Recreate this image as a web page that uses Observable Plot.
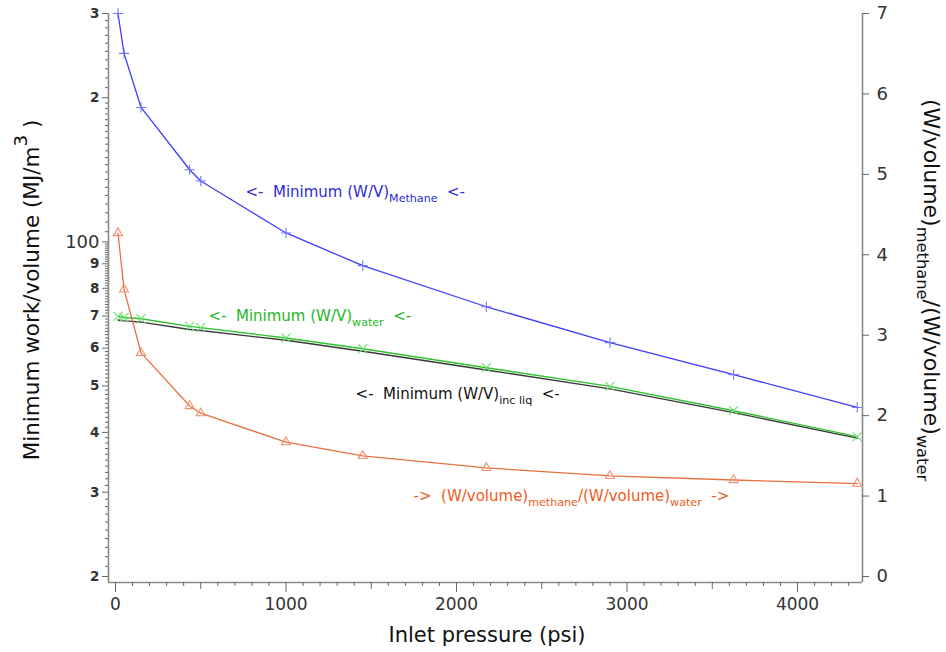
<!DOCTYPE html>
<html><head><meta charset="utf-8">
<script src="https://cdn.jsdelivr.net/npm/d3@7"></script>
<script src="https://cdn.jsdelivr.net/npm/@observablehq/plot@0.6"></script>
<style>
body{margin:0;background:#fff;}
svg{display:block}
svg text{white-space:pre}
</style>
</head><body><div id="chart"></div>
<script>
// ---- data ----
const pressure = [14.7, 50, 150, 435, 500, 1000, 1450, 2175, 2900, 3625, 4350];      // psi
const methane  = [300, 247.6, 190.9, 141.5, 134, 104.4, 89.2, 73.2, 61.6, 52.8, 45.1]; // MJ/m3 (left)
const water    = [69.9, 69.5, 69.1, 66.6, 66.2, 63.0, 59.8, 54.6, 49.9, 44.4, 39.2];  // MJ/m3 (left)
const incLiq   = [68.7, 68.4, 68.0, 65.6, 65.3, 62.3, 59.1, 54.0, 49.3, 44.0, 38.9];  // MJ/m3 (left)
const ratio    = [4.27, 3.57, 2.78, 2.12, 2.03, 1.67, 1.50, 1.35, 1.25, 1.20, 1.155]; // right axis

const xMajorTicks = [0, 1000, 2000, 3000, 4000];
const leftMajorTicks = [20, 30, 40, 50, 60, 70, 80, 90, 200, 300];
const leftBigTicks = [100];
const rightTicks = [0, 1, 2, 3, 4, 5, 6, 7];

const labels = [
  {x: 762, y: 127, text: "<-  Minimum (W/V)_{Methane}  <-", color: "#2b2bd8"},
  {x: 545, y: 70.0, text: "<-  Minimum (W/V)_{water}  <-", color: "#22b822"},
  {x: 1408, y: 48.0, text: "<-  Minimum (W/V)_{inc liq}  <-", color: "#111111"},
  {x: 1748, y: 29.4, text: "->  (W/volume)_{methane}/(W/volume)_{water}  ->", color: "#f05a1a"}
];

// ---- scales / helpers ----
const W = 946, H = 652;
const xDomain = [-41, 4381];
const yDomain = [19.43, 300];
// right axis (linear 0..7) shares the plot frame with the left log axis: 0 <-> 20, 7 <-> 300
const toLeft = v => 20 * Math.pow(15, v / 7);

const rows = pressure.map((p, i) => ({
  p, methane: methane[i], water: water[i], incLiq: incLiq[i], ratio: toLeft(ratio[i])
}));
const rightRows = rightTicks.map(v => ({v, y: toLeft(v)}));

const leftMinor = [];
for (let v = 21; v < 100; v++) if (v % 10) leftMinor.push(v);
for (let v = 105; v < 200; v += 5) leftMinor.push(v);
for (let v = 210; v < 300; v += 10) leftMinor.push(v);
const xMid = [500, 1500, 2500, 3500];
const xMinor = d3.range(100, 4400, 100).filter(v => v % 500);

const axisColor = "#8a8a8a";
const tickText = "#333";
const pxPerPsi = (W - 108 - 84) / (xDomain[1] - xDomain[0]);

const plot = Plot.plot({
  width: W, height: H,
  marginLeft: 108, marginRight: 84, marginTop: 13, marginBottom: 70,
  style: {fontFamily: "DejaVu Sans", background: "#fff"},
  x: {domain: xDomain, label: null},
  y: {type: "log", domain: yDomain, label: null},
  marks: [
    // frame
    Plot.ruleX([xDomain[0], xDomain[1]], {stroke: axisColor, strokeWidth: 1.6}),
    Plot.ruleY([yDomain[0]], {stroke: axisColor, strokeWidth: 1.6}),
    // x axis
    Plot.axisX({ticks: xMajorTicks, tickSize: 10, tickPadding: 5, fontSize: 17, stroke: "#666", fill: tickText, tickFormat: d => String(d), label: null}),
    Plot.axisX({ticks: xMid, tickSize: 7, stroke: "#666", tickFormat: () => "", label: null}),
    Plot.axisX({ticks: xMinor, tickSize: 4, stroke: "#666", tickFormat: () => "", label: null}),
    // left axis
    Plot.axisY({anchor: "left", ticks: leftMajorTicks, tickSize: 6, tickPadding: 3, fontSize: 13.5, fontWeight: 600, stroke: "#666", fill: tickText,
      tickFormat: d => String(d >= 200 ? d / 100 : d / 10), label: null}),
    Plot.axisY({anchor: "left", ticks: leftBigTicks, tickSize: 6, tickPadding: 3, fontSize: 18, stroke: "#666", fill: tickText,
      tickFormat: d => String(d), label: null}),
    Plot.axisY({anchor: "left", ticks: leftMinor, tickSize: 3, stroke: "#666", tickFormat: () => "", label: null}),
    // right axis (ratio scale)
    Plot.ruleY(rightRows, {y: "y", x1: xDomain[1], x2: xDomain[1] + 7 / pxPerPsi, stroke: "#666", strokeWidth: 1}),
    Plot.text(rightRows, {x: xDomain[1], y: "y", text: d => String(d.v), dx: 14, textAnchor: "start", fontSize: 18, fill: tickText}),
    // series
    Plot.line(rows, {x: "p", y: "incLiq", stroke: "#3a3a3a", strokeWidth: 1.4}),
    Plot.line(rows, {x: "p", y: "water", stroke: "#2ec42e", strokeWidth: 1.4}),
    Plot.dot(rows, {x: "p", y: "water", symbol: "times", r: 4.2, stroke: "#6fe06f", strokeWidth: 1.1}),
    Plot.line(rows, {x: "p", y: "methane", stroke: "#3d3dff", strokeWidth: 1.3}),
    Plot.dot(rows, {x: "p", y: "methane", symbol: "plus", r: 3.4, stroke: "#7474ff", strokeWidth: 1.1}),
    Plot.line(rows, {x: "p", y: "ratio", stroke: "#e8703f", strokeWidth: 1.3}),
    Plot.dot(rows, {x: "p", y: "ratio", symbol: "triangle2", r: 4.3, stroke: "#f09070", strokeWidth: 1.1}),
    // annotations
    Plot.text(labels, {x: "x", y: "y", text: "text", fill: "color", textAnchor: "start", fontSize: 15})
  ]
});

document.getElementById("chart").appendChild(plot);

// ---- rich text (subscripts / superscripts) ----
function richText(textEl) {
  const s = textEl.textContent;
  if (!/[_^]\{/.test(s)) return;
  const parts = s.split(/([_^]\{[^}]*\})/);
  textEl.textContent = "";
  const sel = d3.select(textEl);
  let shift = 0;
  for (const part of parts) {
    if (!part) continue;
    const m = part.match(/^([_^])\{([^}]*)\}$/);
    if (m) {
      const scale = m[1] === "_" ? 0.74 : 0.85;
      const target = m[1] === "_" ? 0.32 : -0.55;
      sel.append("tspan").attr("font-size", (scale * 100) + "%")
        .attr("dy", ((target - shift) / scale).toFixed(3) + "em").text(m[2]);
      shift = target;
    } else {
      const t = sel.append("tspan").text(part);
      if (shift) t.attr("dy", (-shift).toFixed(3) + "em");
      shift = 0;
    }
  }
}

const svg = d3.select(plot);
svg.selectAll("text").each(function () { richText(this); });

function title(x, y, rot, str, size) {
  const t = svg.append("text")
    .attr("transform", `translate(${x},${y}) rotate(${rot})`)
    .attr("text-anchor", "middle")
    .attr("font-family", "DejaVu Sans")
    .attr("font-size", size)
    .attr("fill", "#111")
    .text(str);
  richText(t.node());
}
title(39, 290, -90, "Minimum work/volume (MJ/m^{3} )", 21.5);
title(924, 290, 90, "(W/volume)_{methane}/(W/volume)_{water}", 22);
title(487, 642, 0, "Inlet pressure (psi)", 21);
</script>
</body></html>
